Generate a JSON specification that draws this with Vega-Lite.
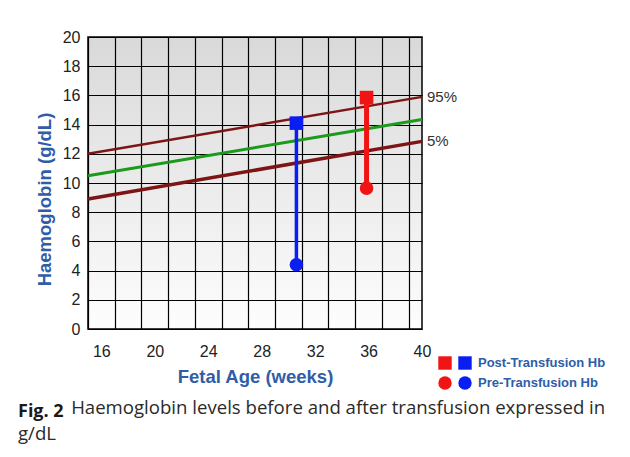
{
  "$schema": "https://vega.github.io/schema/vega-lite/v6.json",
  "autosize": {"type": "none"},
  "padding": {"left": 88, "top": 37, "right": 208, "bottom": 128},
  "width": 334,
  "height": 292,
  "background": "#ffffff",
  "datasets": {
    "hb": [
      {"case": "A", "week": 30.6, "hb": 14.1, "type": "Post-Transfusion Hb"},
      {"case": "A", "week": 30.6, "hb": 4.4, "type": "Pre-Transfusion Hb"},
      {"case": "B", "week": 35.85, "hb": 15.85, "type": "Post-Transfusion Hb"},
      {"case": "B", "week": 35.85, "hb": 9.65, "type": "Pre-Transfusion Hb"}
    ],
    "ref": [
      {"centile": "95%", "week": 15, "hb": 12.0},
      {"centile": "95%", "week": 40, "hb": 15.9},
      {"centile": "50%", "week": 15, "hb": 10.5},
      {"centile": "50%", "week": 40, "hb": 14.35},
      {"centile": "5%", "week": 15, "hb": 8.9},
      {"centile": "5%", "week": 40, "hb": 12.85}
    ]
  },
  "title": {
    "text": "Fig. 2",
    "subtitle": ["\u200b\u00a0\u00a0\u00a0\u00a0\u00a0\u00a0\u00a0\u00a0\u00a0\u00a0\u00a0Haemoglobin levels before and after transfusion expressed in", "g/dL"],
    "orient": "bottom",
    "anchor": "start",
    "frame": "group",
    "dx": -70,
    "offset": 13,
    "font": "Open Sans",
    "fontSize": 18,
    "fontWeight": "bold",
    "color": "#1a1a1a",
    "subtitleFont": "Open Sans",
    "subtitleFontSize": 18.6,
    "subtitleFontWeight": "normal",
    "subtitleColor": "#2a2a2a",
    "subtitlePadding": -22,
    "subtitleLineHeight": 26
  },
  "encoding": {
    "x": {
      "field": "week",
      "type": "quantitative",
      "scale": {"domain": [15, 40], "nice": false, "zero": false},
      "axis": {
        "title": "Fetal Age (weeks)",
        "values": [15, 16, 17, 19, 20, 21, 23, 24, 25, 27, 28, 29, 31, 32, 33, 35, 36, 37, 39, 40],
        "labelExpr": "datum.value % 4 == 0 ? datum.label : ''",
        "gridOpacity": {"condition": {"test": "datum.value % 2 == 0", "value": 0}, "value": 1},
        "labelOverlap": false,
        "labelFlush": false,
        "labelPadding": 14,
        "titlePadding": 8
      }
    },
    "y": {
      "field": "hb",
      "type": "quantitative",
      "scale": {"domain": [0, 20], "nice": false},
      "axis": {
        "title": "Haemoglobin (g/dL)",
        "values": [0, 2, 4, 6, 8, 10, 12, 14, 16, 18, 20],
        "labelPadding": 8,
        "titlePadding": 8,
        "titleY": 162
      }
    }
  },
  "layer": [
    {
      "data": {"name": "ref"},
      "mark": {"type": "line", "strokeCap": "butt"},
      "encoding": {
        "color": {"field": "centile", "type": "nominal", "scale": {"domain": ["95%", "50%", "5%"], "range": ["#7d1515", "#1b9a1b", "#7d1515"]}, "legend": null},
        "strokeWidth": {"field": "centile", "type": "nominal", "scale": {"domain": ["95%", "50%", "5%"], "range": [2.5, 3.5, 2.5]}, "legend": null}
      }
    },
    {
      "data": {"name": "ref"},
      "transform": [{"filter": "datum.week == 40 && datum.centile != '50%'"}],
      "mark": {"type": "text", "align": "left", "baseline": "middle", "dx": 5, "font": "Liberation Sans", "fontSize": 15, "color": "#333333"},
      "encoding": {"text": {"field": "centile"}}
    },
    {
      "data": {"name": "hb"},
      "transform": [{"filter": "datum.case == 'A'"}],
      "mark": {"type": "rule", "color": "#0a1ef2", "strokeWidth": 3.5},
      "encoding": {
        "y": {"aggregate": "min", "field": "hb", "type": "quantitative"},
        "y2": {"aggregate": "max", "field": "hb"}
      }
    },
    {
      "data": {"name": "hb"},
      "transform": [{"filter": "datum.case == 'B'"}],
      "mark": {"type": "rule", "color": "#f01414", "strokeWidth": 5},
      "encoding": {
        "y": {"aggregate": "min", "field": "hb", "type": "quantitative"},
        "y2": {"aggregate": "max", "field": "hb"}
      }
    },
    {
      "data": {"name": "hb"},
      "transform": [{"filter": "datum.case == 'A'"}],
      "mark": {"type": "point", "filled": true, "opacity": 1, "color": "#0a1ef2", "size": 185},
      "encoding": {
        "shape": {
          "field": "type",
          "type": "nominal",
          "scale": {"domain": ["Post-Transfusion Hb", "Pre-Transfusion Hb"], "range": ["square", "circle"]},
          "legend": {
            "title": null,
            "orient": "none",
            "legendX": 370,
            "legendY": 319,
            "padding": 0,
            "symbolSize": 180,
            "symbolOpacity": 1,
            "symbolStrokeWidth": 0,
            "labelFont": "Liberation Sans",
            "labelFontSize": 13,
            "labelFontWeight": "bold",
            "labelColor": "#2f5da8",
            "labelOffset": 6,
            "rowPadding": 6,
            "encode": {"symbols": {"update": {"fill": {"signal": "datum.value == 'Post-Transfusion Hb' ? '#0a1ef2' : '#f01414'"}, "opacity": {"value": 1}}}}
          }
        }
      }
    },
    {
      "data": {"name": "hb"},
      "transform": [{"filter": "datum.case == 'B'"}],
      "mark": {"type": "point", "filled": true, "opacity": 1, "color": "#f01414", "size": 185},
      "encoding": {
        "shape": {
          "field": "type",
          "type": "nominal",
          "scale": {"domain": ["Post-Transfusion Hb", "Pre-Transfusion Hb"], "range": ["square", "circle"]},
          "legend": {
            "title": null,
            "orient": "none",
            "legendX": 350,
            "legendY": 319,
            "padding": 0,
            "symbolSize": 180,
            "symbolOpacity": 1,
            "symbolStrokeWidth": 0,
            "labelExpr": "''",
            "labelFontSize": 13,
            "labelOffset": 0,
            "rowPadding": 6,
            "encode": {"symbols": {"update": {"fill": {"signal": "datum.value == 'Post-Transfusion Hb' ? '#f01414' : '#0a1ef2'"}, "opacity": {"value": 1}}}}
          }
        }
      }
    }
  ],
  "resolve": {"scale": {"shape": "independent"}, "legend": {"shape": "independent"}},
  "config": {
    "view": {
      "stroke": "#000000",
      "strokeWidth": 1.5,
      "fill": {"gradient": "linear", "x1": 0, "y1": 0, "x2": 0, "y2": 1, "stops": [{"offset": 0, "color": "#d9d9d9"}, {"offset": 1, "color": "#fdfdfd"}]}
    },
    "axis": {
      "grid": true,
      "gridColor": "#000000",
      "gridWidth": 1.2,
      "ticks": false,
      "domain": false,
      "labelFont": "Liberation Sans",
      "labelFontSize": 16,
      "labelColor": "#222222",
      "titleFont": "Liberation Sans",
      "titleFontSize": 18.5,
      "titleFontWeight": "bold",
      "titleColor": "#2f5da8"
    }
  }
}
